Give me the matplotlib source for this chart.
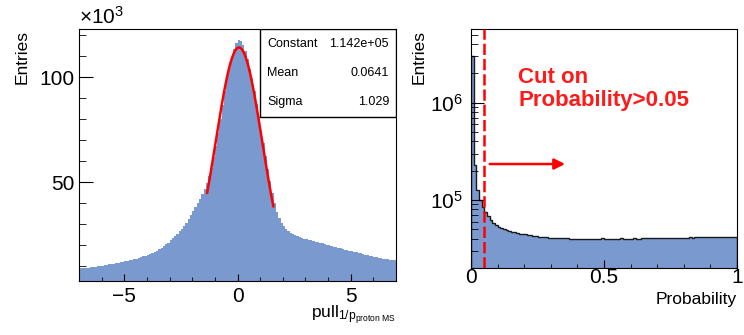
import numpy as np
import matplotlib.pyplot as plt
from matplotlib.patches import Rectangle
from matplotlib.ticker import MultipleLocator, LogLocator, NullFormatter

plt.rcParams['font.family'] = ['Liberation Sans', 'DejaVu Sans']
plt.rcParams['mathtext.fontset'] = 'custom'
plt.rcParams['mathtext.rm'] = 'Liberation Sans'
plt.rcParams['mathtext.it'] = 'Liberation Sans:italic'
plt.rcParams['mathtext.bf'] = 'Liberation Sans:bold'

# left: pull distribution, 0.1 wide bins from -7 to 7, entries in units of 1e3
pull_lo, pull_hi, pull_nbins = -7.0, 7.0, 140
pull_counts = [
    9.0, 9.1, 9.2, 9.3, 9.4, 9.6, 9.7, 9.8, 10.0, 10.1,
    10.3, 10.5, 10.7, 10.9, 11.1, 11.3, 11.5, 11.7, 11.9, 12.1,
    12.3, 12.6, 12.8, 13.1, 13.4, 13.7, 14.0, 14.3, 14.7, 15.1,
    15.5, 15.9, 16.4, 16.9, 17.5, 18.1, 18.8, 19.6, 20.4, 21.3,
    22.3, 23.3, 24.4, 25.5, 26.7, 27.9, 29.2, 30.7, 32.3, 34.2,
    36.2, 38.2, 40.2, 42.2, 44.4, 46.8, 49.6, 53.0, 57.0, 62.0,
    67.5, 73.5, 80.0, 87.0, 93.5, 99.5, 105.0, 109.5, 113.5, 116.5,
    118.0, 117.5, 115.5, 112.5, 108.5, 104.0, 99.0, 93.5, 87.5, 81.0,
    74.5, 68.5, 62.5, 56.5, 50.5, 45.0, 40.0, 36.0, 33.0, 30.8,
    29.0, 27.8, 26.8, 26.0, 25.3, 24.8, 24.3, 23.9, 23.5, 23.2,
    22.9, 22.6, 22.4, 22.1, 21.8, 21.5, 21.2, 20.9, 20.6, 20.3,
    20.0, 19.7, 19.4, 19.1, 18.8, 18.5, 18.2, 17.9, 17.6, 17.3,
    17.1, 16.8, 16.6, 16.3, 16.1, 15.8, 15.6, 15.3, 15.1, 14.8,
    14.6, 14.3, 14.1, 13.9, 13.7, 13.5, 13.3, 13.1, 12.9, 12.8,
]

# gaussian fit shown in the stats box
fit_names = ['Constant', 'Mean', 'Sigma']
fit_labels = ['1.142e+05', '0.0641', '1.029']
fit_const, fit_mean, fit_sigma = 1.142e5, 0.0641, 1.029
fit_range = (-1.34, 1.58)

# right: fit probability, 100 bins from 0 to 1
prob_lo, prob_hi, prob_nbins = 0.0, 1.0, 100
prob_counts = [
    3.0e6, 2.3e5, 1.27e5, 1.0e5, 8.5e4, 7.6e4, 6.8e4, 6.2e4, 5.8e4, 5.5e4,
    5.3e4, 5.15e4, 5.0e4, 4.9e4, 4.8e4, 4.72e4, 4.65e4, 4.58e4, 4.52e4, 4.47e4,
    4.42e4, 4.37e4, 4.33e4, 4.29e4, 4.25e4, 4.21e4, 4.18e4, 4.15e4, 4.12e4, 4.1e4,
    4.08e4, 4.06e4, 4.05e4, 4.04e4, 4.03e4, 4.02e4, 4.02e4, 4.01e4, 4.0e4, 4.0e4,
    4.0e4, 3.97e4, 3.95e4, 3.99e4, 4.0e4, 4.01e4, 3.98e4, 3.96e4, 4.0e4, 4.02e4,
    4.0e4, 3.99e4, 4.01e4, 4.0e4, 3.98e4, 4.0e4, 4.02e4, 4.01e4, 4.0e4, 3.99e4,
    4.01e4, 4.02e4, 4.0e4, 4.01e4, 4.02e4, 4.03e4, 4.02e4, 4.03e4, 4.04e4, 4.05e4,
    4.06e4, 4.05e4, 4.06e4, 4.05e4, 4.06e4, 4.07e4, 4.06e4, 4.07e4, 4.08e4, 4.08e4,
    4.1e4, 4.11e4, 4.12e4, 4.11e4, 4.12e4, 4.12e4, 4.13e4, 4.12e4, 4.13e4, 4.12e4,
    4.13e4, 4.14e4, 4.13e4, 4.14e4, 4.13e4, 4.14e4, 4.15e4, 4.14e4, 4.15e4, 4.15e4,
]
prob_cut = 0.05

fill = '#7a99cf'

fig = plt.figure(figsize=(7.44, 3.35), dpi=100)

# ---------------- left panel
ax1 = fig.add_axes([0.1062, 0.1612, 0.4261, 0.7522])
edges1 = np.linspace(pull_lo, pull_hi, pull_nbins + 1)
ax1.stairs(pull_counts, edges1, fill=True, color=fill, lw=0)
xf = np.linspace(fit_range[0], fit_range[1], 200)
yf = fit_const * np.exp(-0.5 * ((xf - fit_mean) / fit_sigma) ** 2) / 1e3
ax1.plot(xf, yf, color='red', lw=1.8, zorder=3)
ax1.set_xlim(pull_lo, pull_hi)
ax1.set_ylim(3, 123)
ax1.set_xticks([-5, 0, 5])
ax1.set_yticks([50, 100])
ax1.xaxis.set_minor_locator(MultipleLocator(1))
ax1.yaxis.set_minor_locator(MultipleLocator(10))
ax1.tick_params(which='both', direction='in', top=False, right=False, labelsize=15)
ax1.tick_params(axis='y', which='major', length=10, pad=3.5)
ax1.tick_params(axis='y', which='minor', length=5)
ax1.tick_params(axis='x', which='major', length=5, pad=4)
ax1.tick_params(axis='x', which='minor', length=3)
ax1.text(0, 1.005, r'$\times$10$^{3}$', transform=ax1.transAxes, fontsize=15,
         ha='left', va='bottom')
fig.text(0.030, 0.91, 'Entries', rotation=90, ha='center', va='top', fontsize=12.5)
ax1.text(1.0, -0.092, r'pull$_{\mathrm{1/p}_{\mathrm{proton\ MS}}}$', transform=ax1.transAxes,
         ha='right', va='top', fontsize=12.5)

# stats box
ax1.add_patch(Rectangle((0.571, 0.651), 0.429, 0.349, transform=ax1.transAxes,
                        facecolor='white', edgecolor='black', lw=1, zorder=4))
for name, val, yy in zip(fit_names, fit_labels, [0.940, 0.825, 0.710]):
    ax1.text(0.593, yy, name, transform=ax1.transAxes, fontsize=9,
             ha='left', va='center', zorder=5)
    ax1.text(0.978, yy, val, transform=ax1.transAxes, fontsize=9,
             ha='right', va='center', zorder=5)

# ---------------- right panel
ax2 = fig.add_axes([0.6331, 0.2, 0.3575, 0.7134])
edges2 = np.linspace(prob_lo, prob_hi, prob_nbins + 1)
ax2.stairs(prob_counts, edges2, fill=True, color=fill, lw=0, baseline=1)
ax2.stairs(prob_counts, edges2, color='#1a1a1a', lw=1, baseline=1)
ax2.set_yscale('log')
ax2.set_xlim(prob_lo, prob_hi)
ax2.set_ylim(2.0e4, 5.7e6)
ax2.set_xticks([0, 0.5, 1])
ax2.set_xticklabels(['0', '0.5', '1'])
ax2.xaxis.set_minor_locator(MultipleLocator(0.1))
ax2.yaxis.set_major_locator(LogLocator(base=10, numticks=10))
ax2.yaxis.set_minor_locator(LogLocator(base=10, subs=np.arange(2, 10), numticks=20))
ax2.yaxis.set_minor_formatter(NullFormatter())
ax2.tick_params(which='both', direction='in', top=False, right=False, labelsize=15)
ax2.tick_params(axis='y', which='major', length=9, pad=6)
ax2.tick_params(axis='y', which='minor', length=5)
ax2.tick_params(axis='x', which='major', length=6, pad=0)
ax2.tick_params(axis='x', which='minor', length=3)
ax2.axvline(prob_cut, color='red', lw=1.8, ls=(0, (4.5, 1.6)), zorder=3)
ax2.annotate('', xy=(0.364, 0.435), xytext=(0.06, 0.435), xycoords='axes fraction',
             arrowprops=dict(arrowstyle='-|>', color='red', lw=1.8, mutation_scale=16))
ax2.text(0.178, 0.84, 'Cut on\nProbability>0.05', transform=ax2.transAxes,
         color='#ff1a1a', fontsize=16, fontweight='bold', ha='left', va='top',
         linespacing=1.1)
fig.text(0.563, 0.91, 'Entries', rotation=90, ha='center', va='top', fontsize=12.5)
ax2.text(1.0, -0.10, 'Probability', transform=ax2.transAxes, ha='right', va='top',
         fontsize=12.5)

fig.savefig('out.png', dpi=100)
